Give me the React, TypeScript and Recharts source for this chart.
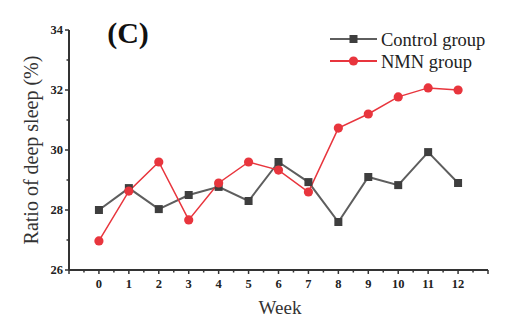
import React from 'react';
import { LineChart, Line, XAxis, YAxis } from 'recharts';

const weeks = [0, 1, 2, 3, 4, 5, 6, 7, 8, 9, 10, 11, 12];
const controlGroup = [28.0, 28.73, 28.03, 28.5, 28.77, 28.3, 29.6, 28.93, 27.6, 29.1, 28.83, 29.93, 28.9];
const nmnGroup = [26.97, 28.63, 29.6, 27.67, 28.9, 29.6, 29.33, 28.6, 30.73, 31.2, 31.77, 32.07, 32.0];
const xTicks = [-1, -0.5, 0, 0.5, 1, 1.5, 2, 2.5, 3, 3.5, 4, 4.5, 5, 5.5, 6, 6.5, 7, 7.5, 8, 8.5, 9, 9.5, 10, 10.5, 11, 11.5, 12, 12.5, 13];
const yTicks = [26, 27, 28, 29, 30, 31, 32, 33, 34];
const yLabelTicks = [26, 28, 30, 32, 34];
const seriesNames = ['Control group', 'NMN group'];

const data = weeks.map((w, i) => ({ week: w, control: controlGroup[i], nmn: nmnGroup[i] }));

const AXIS = '#333';
const GRAY_LINE = '#5e5e5e';
const GRAY_MARK = '#3e3e3e';
const RED = '#e8353d';
const SERIF = '"Liberation Serif", "DejaVu Serif", serif';

const XTick = (props: any) => {
  const { x, y, payload } = props;
  const v = payload.value;
  const major = Number.isInteger(v);
  const showLabel = major && v >= 0 && v <= 12;
  return (
    <g>
      <line x1={x} x2={x} y1={y} y2={y + (major ? 4 : 2.5)} stroke={AXIS} strokeWidth={1.5} />
      {showLabel && (
        <text x={x} y={y + 18} textAnchor="middle" style={{ fontFamily: SERIF }} fontWeight="bold" fontSize={12.5} fill="#222">
          {v}
        </text>
      )}
    </g>
  );
};

const YTick = (props: any) => {
  const { x, y, payload } = props;
  const v = payload.value;
  const major = yLabelTicks.includes(v);
  return (
    <g>
      <line x1={x} x2={x - (major ? 4 : 2.5)} y1={y} y2={y} stroke={AXIS} strokeWidth={1.5} />
      {major && (
        <text x={x - 6} y={y + 4} textAnchor="end" style={{ fontFamily: SERIF }} fontWeight="bold" fontSize={12.5} fill="#222">
          {v}
        </text>
      )}
    </g>
  );
};

const SquareDot = (props: any) => {
  const { cx, cy, index } = props;
  if (cx == null || cy == null) return <g key={index} />;
  return <rect key={index} x={cx - 4} y={cy - 4} width={8} height={8} fill={GRAY_MARK} />;
};

const CircleDot = (props: any) => {
  const { cx, cy, index } = props;
  if (cx == null || cy == null) return <g key={index} />;
  return <circle key={index} cx={cx} cy={cy} r={4.6} fill={RED} />;
};

const Decorations = () => (
  <g>
    <text
      x={38}
      y={150}
      transform="rotate(-90 38 150)"
      textAnchor="middle"
      style={{ fontFamily: SERIF }}
      fontSize={20}
      fill="#333"
    >
      Ratio of deep sleep (%)
    </text>
    <text x={128} y={43} textAnchor="middle" style={{ fontFamily: SERIF }} fontWeight="bold" fontSize={30} fill="#111">
      (C)
    </text>
    <g transform="translate(330,29)">
      <line x1={0} x2={47} y1={10} y2={10} stroke={GRAY_LINE} strokeWidth={2} />
      <rect x={19.5} y={6} width={8} height={8} fill={GRAY_MARK} />
      <text x={51} y={16.5} style={{ fontFamily: SERIF }} fontSize={18.5} fill="#222">{seriesNames[0]}</text>
      <line x1={0} x2={47} y1={32} y2={32} stroke={RED} strokeWidth={2} />
      <circle cx={23.5} cy={32} r={4.6} fill={RED} />
      <text x={51} y={38.5} style={{ fontFamily: SERIF }} fontSize={18.5} fill="#222">{seriesNames[1]}</text>
    </g>
  </g>
);

export default function App() {
  return (
    <div style={{ position: 'absolute', left: 0, top: 0, width: 512, height: 322, background: '#fff' }}>
      <LineChart width={512} height={322} data={data} margin={{ top: 30, right: 24, bottom: 12, left: 29 }}>
        <XAxis
          dataKey="week"
          type="number"
          domain={[-1, 13]}
          ticks={xTicks}
          interval={0}
          height={40}
          tickSize={0}
          tickMargin={0}
          tickLine={false}
          tick={<XTick />}
          axisLine={{ stroke: AXIS, strokeWidth: 2 }}
          allowDecimals
          label={{
            content: () => (
              <text x={280} y={314} textAnchor="middle" style={{ fontFamily: SERIF }} fontSize={19} fill="#333">Week</text>
            ),
          }}
        />
        <YAxis
          type="number"
          domain={[26, 34]}
          ticks={yTicks}
          interval={0}
          width={40}
          tickSize={0}
          tickMargin={0}
          tickLine={false}
          tick={<YTick />}
          axisLine={{ stroke: AXIS, strokeWidth: 2 }}
          label={{ content: () => <Decorations /> }}
        />
        <Line
          dataKey="control"
          name={seriesNames[0]}
          stroke={GRAY_LINE}
          strokeWidth={2}
          dot={<SquareDot />}
          activeDot={false}
          isAnimationActive={false}
        />
        <Line
          dataKey="nmn"
          name={seriesNames[1]}
          stroke={RED}
          strokeWidth={1.5}
          dot={<CircleDot />}
          activeDot={false}
          isAnimationActive={false}
        />
      </LineChart>
    </div>
  );
}
